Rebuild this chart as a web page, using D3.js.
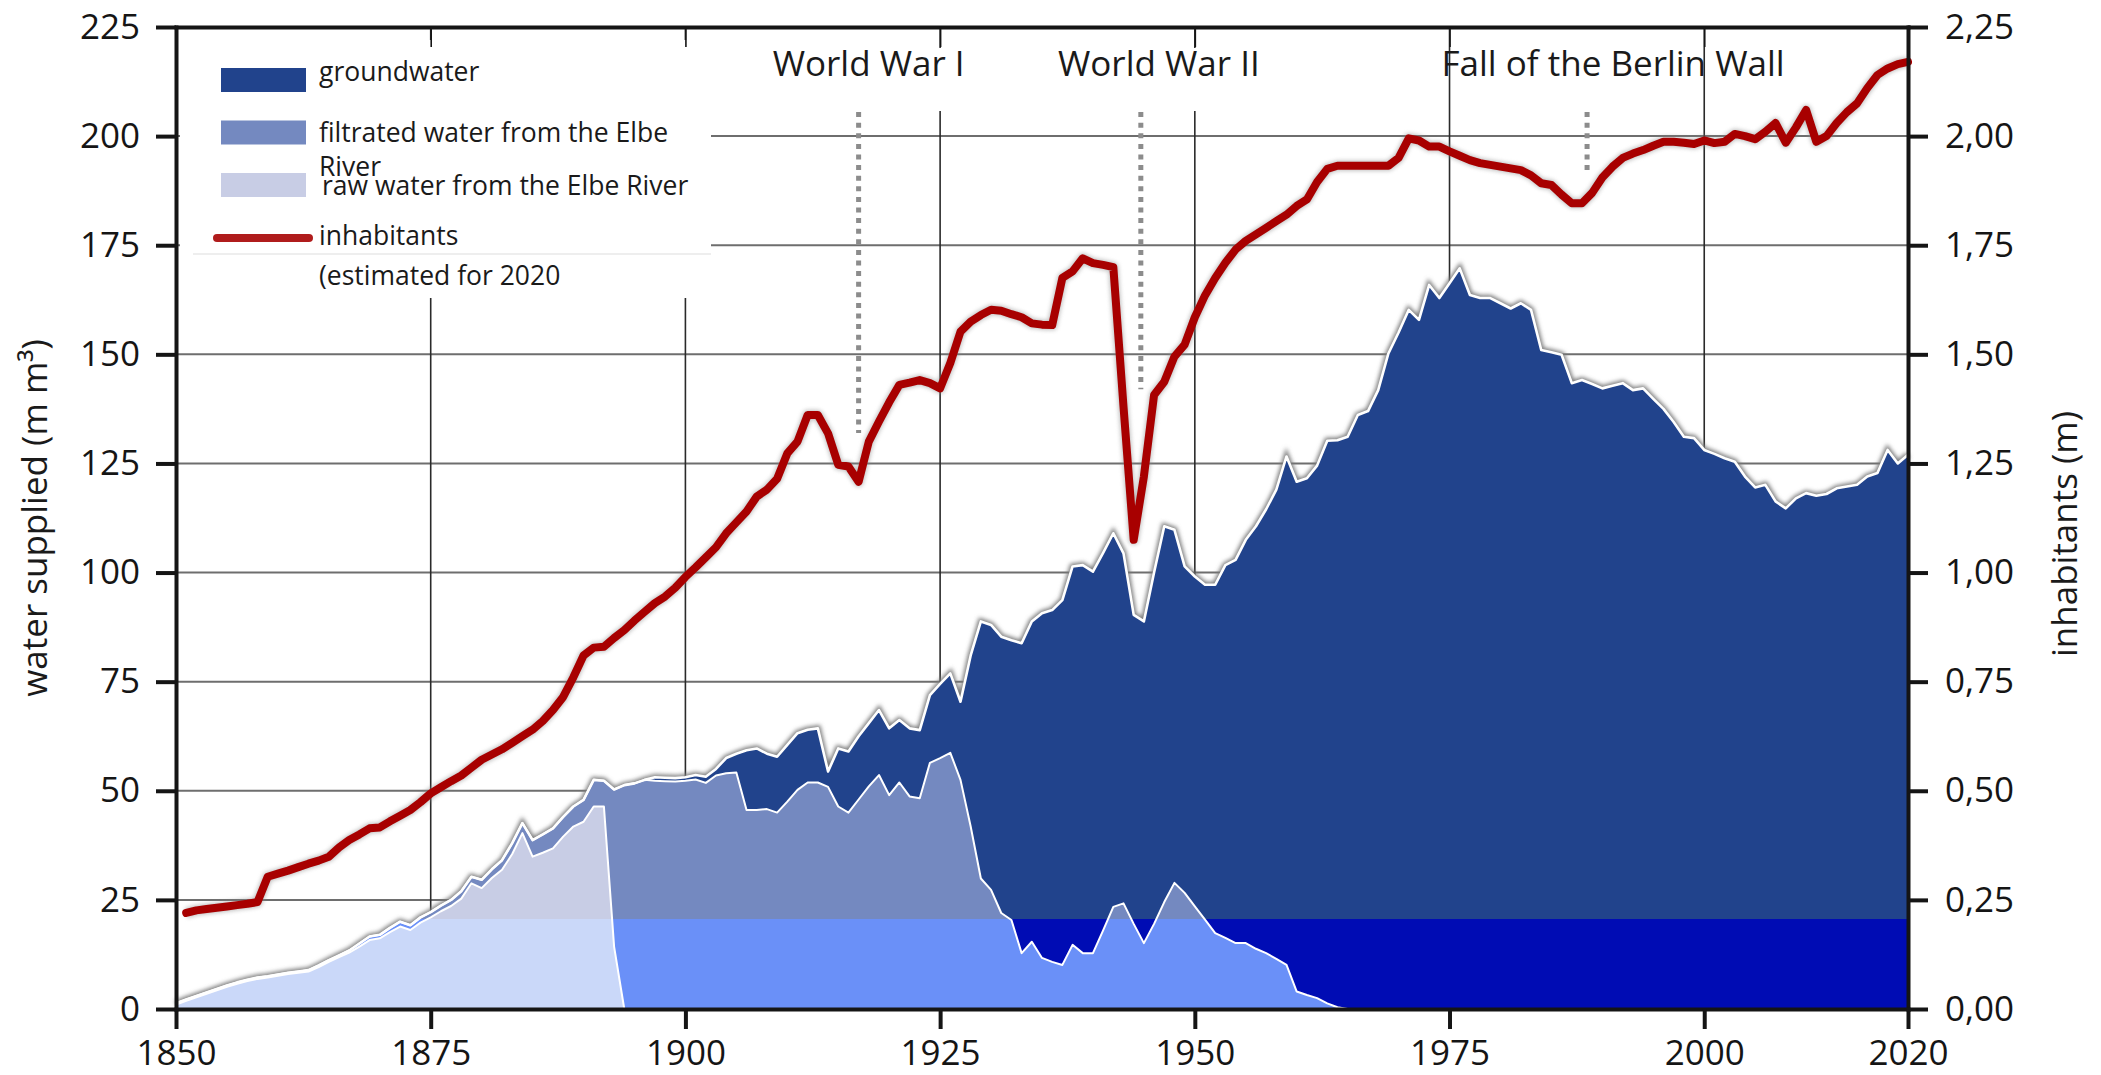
<!DOCTYPE html>
<html>
  <head>
    <meta charset="utf-8">
    <title>Water supplied and inhabitants, 1850-2020</title>
    <script src="https://d3js.org/d3.v7.min.js"></script>
    <style>
      body { margin: 0; background: #fff; }
      svg text { font-family: "Open Sans", "Noto Sans", sans-serif; }
    </style>
  </head>
  <body>
    <div id="chart"></div>

    <script>
        // water supplied (million m³ per year)
        const years = d3.range(1850, 2021)

        // raw water from the Elbe, 1850-1894 (none afterwards)
        const rawWater = [
            1.0, 1.9, 2.7, 3.5, 4.3, 5.1, 5.8, 6.4, 6.9, 7.2,
            7.6, 8.0, 8.3, 8.6, 9.6, 10.8, 11.9, 12.9, 14.3, 15.8,
            16.2, 17.6, 18.9, 18.1, 19.8, 21.0, 22.4, 23.6, 25.3, 28.8,
            27.7, 30.0, 31.9, 35.5, 40.3, 34.9, 35.8, 36.8, 39.5, 41.8,
            42.9, 46.4, 46.4, 14.3, 0
        ]

        // filtrated water from the Elbe, 1850-1965
        const filtratedWater = [
            0.3, 0.3, 0.3, 0.3, 0.3, 0.3, 0.3, 0.3, 0.3, 0.3,
            0.3, 0.3, 0.3, 0.3, 0.4, 0.4, 0.4, 0.5, 0.7, 0.8,
            0.8, 1.0, 1.1, 1.1, 1.2, 1.2, 1.3, 1.4, 1.7, 1.5,
            1.9, 2.0, 2.2, 2.5, 2.3, 3.8, 4.2, 4.6, 4.5, 4.6,
            5.0, 6.1, 5.9, 36.0, 51.3, 51.7, 52.5, 52.3, 52.2, 52.1,
            52.3, 52.6, 51.8, 53.5, 54.0, 54.2, 45.6, 45.6, 45.8, 45.0,
            47.5, 50.2, 51.9, 51.9, 50.9, 46.4, 45.0, 48.0, 51.0, 53.6,
            49.0, 51.9, 48.7, 48.3, 56.4, 57.5, 58.7, 52.5, 41.8, 29.9,
            27.3, 22.0, 20.4, 12.8, 15.4, 11.7, 10.8, 10.1, 14.7, 12.8,
            12.8, 18.0, 23.4, 24.2, 19.5, 15.1, 19.5, 24.5, 28.9, 26.6,
            23.5, 20.5, 17.4, 16.3, 15.1, 15.1, 13.8, 12.8, 11.5, 10.1,
            4.0, 3.2, 2.5, 1.3, 0.4, 0
        ]

        // groundwater, 1897-2020
        const groundwaterStart = 1897
        const groundwater = [
            0.8, 0.8, 0.8,
            0.8, 1.0, 1.4, 1.5, 3.5, 4.3, 13.7, 14.1, 12.7, 12.8,
            13.0, 13.0, 12.1, 12.4, 3.5, 13.3, 14.0, 14.5, 14.5, 14.9,
            15.3, 14.3, 15.6, 15.6, 15.5, 17.0, 18.2, 17.9, 39.2, 58.9,
            60.7, 63.3, 64.1, 71.0, 73.4, 79.0, 80.6, 83.6, 86.7, 88.9,
            87.4, 86.5, 85.6, 80.2, 70.8, 73.7, 80.5, 86.1, 80.9, 74.8,
            75.6, 76.7, 79.8, 85.4, 87.8, 92.4, 96.8, 101.7, 107.5, 116.5,
            116.8, 118.4, 122.0, 128.9, 129.9, 131.1, 136.1, 137.0, 141.8, 150.2,
            155.0, 160.2, 157.9, 165.9, 162.9, 166.3, 169.7, 163.6, 162.9, 162.9,
            161.7, 160.5, 161.7, 160.2, 151.0, 150.5, 149.9, 143.4, 144.1, 143.2,
            142.2, 142.8, 143.4, 141.8, 142.2, 139.8, 137.5, 134.5, 131.1, 130.8,
            128.1, 127.2, 126.2, 125.4, 122.0, 119.5, 120.1, 116.3, 114.7, 117.0,
            118.2, 117.6, 118.0, 119.3, 119.7, 120.1, 122.0, 122.8, 128.1, 125.0,
            127.0
        ]

        // inhabitants (millions), 1851-2020
        const inhabitantsStart = 1851
        const inhabitants = [
            0.220, 0.226, 0.229, 0.232, 0.235, 0.238, 0.241, 0.245, 0.303,
            0.310, 0.317, 0.325, 0.333, 0.340, 0.349, 0.370, 0.387, 0.400, 0.414,
            0.416, 0.430, 0.443, 0.456, 0.474, 0.494, 0.508, 0.522, 0.535, 0.553,
            0.571, 0.583, 0.595, 0.610, 0.625, 0.640, 0.660, 0.685, 0.715, 0.760,
            0.810, 0.828, 0.830, 0.850, 0.868, 0.890, 0.910, 0.930, 0.945, 0.965,
            0.990, 1.012, 1.035, 1.058, 1.090, 1.115, 1.140, 1.174, 1.190, 1.215,
            1.273, 1.300, 1.361, 1.361, 1.319, 1.247, 1.243, 1.208, 1.300, 1.346,
            1.390, 1.430, 1.435, 1.441, 1.434, 1.422, 1.480, 1.552, 1.575, 1.590,
            1.602, 1.600, 1.592, 1.585, 1.571, 1.568, 1.567, 1.675, 1.690, 1.720,
            1.709, 1.705, 1.700, 1.380, 1.075, 1.220, 1.407, 1.437, 1.495, 1.522,
            1.585, 1.635, 1.675, 1.710, 1.740, 1.760, 1.775, 1.790, 1.805, 1.820,
            1.840, 1.855, 1.895, 1.925, 1.932, 1.932, 1.932, 1.932, 1.932, 1.932,
            1.950, 1.995, 1.990, 1.976, 1.976, 1.965, 1.955, 1.945, 1.938, 1.934,
            1.930, 1.926, 1.922, 1.910, 1.892, 1.888, 1.866, 1.846, 1.846, 1.870,
            1.905, 1.930, 1.950, 1.960, 1.968, 1.978, 1.987, 1.987, 1.985, 1.982,
            1.990, 1.984, 1.987, 2.005, 2.000, 1.993, 2.010, 2.030, 1.985, 2.020,
            2.060, 1.987, 2.000, 2.030, 2.055, 2.075, 2.110, 2.140, 2.155, 2.165,
            2.170
        ]

        const waterTicks      = d3.range(0, 226, 25)
        const inhabitantTicks = [0, 0.25, 0.5, 0.75, 1, 1.25, 1.5, 1.75, 2, 2.25]
        const yearTicks       = [1850, 1875, 1900, 1925, 1950, 1975, 2000, 2020]
        const gridYears       = [1875, 1900, 1925, 1950, 1975, 2000]

        const eventLabels = ['World War I', 'World War II', 'Fall of the Berlin Wall']
        const eventYears  = [1917, 1944.7, 1988.5]

        const legendLabels = ['groundwater', 'filtrated water from the Elbe', 'raw water from the Elbe River', 'inhabitants']

        drawChart()

        function drawChart() {
            let W = 2101, H = 1075,
                m = { left: 176, right: 1908, top: 27, bottom: 1009 },
                x       = d3.scaleLinear().domain([1850, 2020]).range([m.left, m.right]),
                yWater  = d3.scaleLinear().domain([0, 225]).range([m.bottom, m.top]),
                yPeople = d3.scaleLinear().domain([0, 2.25]).range([m.bottom, m.top]),
                keys    = ['raw', 'filtrated', 'groundwater'],
                colors  = { raw: '#c8cde5', filtrated: '#7489c0', groundwater: '#21438c' },
                // the lowest band of the original is printed in stronger tints
                lowColors = { raw: '#cad8f9', filtrated: '#6a90f8', groundwater: '#000cb4' },
                bandTop = 20.6,
                decimal = d3.formatLocale({ decimal: ',', thousands: '.', grouping: [3], currency: ['', ''] }).format('.2f')

            let rows = years.map((yr, i) => ({
                year: yr,
                raw: rawWater[i] ?? 0,
                filtrated: filtratedWater[i] ?? 0,
                groundwater: groundwater[yr - groundwaterStart] ?? 0
            }))
            let series = d3.stack().keys(keys)(rows)
            let people = inhabitants.map((v, i) => ({ year: inhabitantsStart + i, value: v }))

            let svg = d3.select('#chart').append('svg')
                .attr('width', W).attr('height', H)
                .style('background', '#fff')

            let defs = svg.append('defs')
            defs.append('clipPath').attr('id', 'lowBand')
                .append('rect')
                .attr('x', m.left).attr('width', m.right - m.left)
                .attr('y', yWater(bandTop)).attr('height', m.bottom - yWater(bandTop))
            defs.append('filter').attr('id', 'blur')
                .attr('x', '-5%').attr('y', '-5%').attr('width', '110%').attr('height', '110%')
                .append('feGaussianBlur').attr('stdDeviation', 2.2)

            // grid
            let grid = svg.append('g')
            grid.selectAll('.hgrid')
                .data(waterTicks.filter(d => d > 0 && d < 225))
                .join('line')
                .attr('x1', m.left).attr('x2', m.right)
                .attr('y1', d => yWater(d)).attr('y2', d => yWater(d))
                .attr('stroke', '#6e6e6e').attr('stroke-width', 2)
            grid.selectAll('.vgrid')
                .data(gridYears)
                .join('line')
                .attr('x1', d => x(d)).attr('x2', d => x(d))
                .attr('y1', m.top).attr('y2', m.bottom)
                .attr('stroke', '#2a2a2a').attr('stroke-width', 1.6)

            // white patches of the original: behind the legend and the war labels
            svg.append('rect').attr('x', 180).attr('y', 40).attr('width', 531).attr('height', 258).attr('fill', '#fff')
            svg.append('rect').attr('x', 760).attr('y', 48).attr('width', 520).attr('height', 63).attr('fill', '#fff')

            // stacked areas
            let area = d3.area()
                .x(d => x(d.data.year))
                .y0(d => yWater(d[0]))
                .y1(d => yWater(d[1]))
            let topLine = d3.line()
                .x(d => x(d.data.year))
                .y(d => yWater(d[1]))

            svg.append('path')
                .datum(series[2])
                .attr('d', topLine)
                .attr('fill', 'none')
                .attr('stroke', '#7a7a7a').attr('stroke-width', 6)
                .attr('filter', 'url(#blur)')

            svg.append('g').selectAll('path')
                .data(series)
                .join('path')
                .attr('d', area)
                .attr('fill', d => colors[d.key])

            svg.append('g').attr('clip-path', 'url(#lowBand)')
                .selectAll('path')
                .data(series)
                .join('path')
                .attr('d', area)
                .attr('fill', d => lowColors[d.key])

            svg.append('g').selectAll('path')
                .data(series)
                .join('path')
                .attr('d', topLine)
                .attr('fill', 'none')
                .attr('stroke', '#fff')
                .attr('stroke-width', d => d.key == 'groundwater' ? 2.6 : 2)
                .attr('stroke-linejoin', 'round')

            // event markers
            let dotBottoms = [132, 142, 192],
                labelShift = [10, 18, 26]
            svg.append('g').selectAll('line')
                .data(eventYears)
                .join('line')
                .attr('x1', d => x(d)).attr('x2', d => x(d))
                .attr('y1', yWater(205.5)).attr('y2', (d, i) => yWater(dotBottoms[i]))
                .attr('stroke', '#8c8c8c').attr('stroke-width', 5)
                .attr('stroke-dasharray', '5 5.6')
            svg.append('g').selectAll('text')
                .data(eventLabels)
                .join('text')
                .attr('x', (d, i) => x(eventYears[i]) + labelShift[i])
                .attr('y', 76)
                .attr('text-anchor', 'middle')
                .attr('font-size', 35)
                .attr('fill', '#1a1a1a')
                .text(d => d)

            // inhabitants
            let peopleLine = d3.line()
                .x(d => x(d.year))
                .y(d => yPeople(d.value))
            svg.append('path')
                .datum(people)
                .attr('d', peopleLine)
                .attr('fill', 'none')
                .attr('stroke', '#8a8a8a').attr('stroke-width', 10)
                .attr('stroke-linejoin', 'round')
                .attr('opacity', 0.55)
                .attr('filter', 'url(#blur)')
            svg.append('path')
                .datum(people)
                .attr('d', peopleLine)
                .attr('fill', 'none')
                .attr('stroke', '#a80000').attr('stroke-width', 8)
                .attr('stroke-linejoin', 'round')
                .attr('stroke-linecap', 'round')

            // legend
            let lg = svg.append('g')
            let swatch = [colors.groundwater, colors.filtrated, colors.raw]
            lg.selectAll('rect')
                .data(swatch)
                .join('rect')
                .attr('x', 221).attr('width', 85)
                .attr('y', (d, i) => 68 + i * 52.5).attr('height', 24)
                .attr('fill', d => d)
            lg.append('line')
                .attr('x1', 217).attr('x2', 309).attr('y1', 238).attr('y2', 238)
                .attr('stroke', '#b01c1c').attr('stroke-width', 8).attr('stroke-linecap', 'round')
            lg.append('line')
                .attr('x1', 193).attr('x2', 711).attr('y1', 254).attr('y2', 254)
                .attr('stroke', '#eeeeee').attr('stroke-width', 2)
            let lgBase = [81, 142, 195, 245]
            lg.selectAll('text')
                .data(legendLabels)
                .join('text')
                .attr('x', (d, i) => i == 2 ? 322 : 319)
                .attr('y', (d, i) => lgBase[i])
                .attr('font-size', 26.5)
                .attr('fill', '#1a1a1a')
                .text(d => d)
            lg.append('text').attr('x', 319).attr('y', 176).attr('font-size', 26.5).attr('fill', '#1a1a1a').text('River')
            lg.append('text').attr('x', 319).attr('y', 285).attr('font-size', 26.5).attr('fill', '#1a1a1a').text('(estimated for 2020')

            // axes
            function styleAxis(g, tickWidth) {
                g.attr('font-family', '"Open Sans", "Noto Sans", sans-serif')
                    .attr('font-size', 35)
                    .attr('color', '#151515')
                g.select('.domain').attr('stroke-width', 4).attr('stroke-linecap', 'square')
                g.selectAll('.tick line').attr('stroke-width', tickWidth)
            }

            svg.append('g')
                .attr('transform', `translate(0,${m.top})`)
                .call(d3.axisTop(x).tickValues(gridYears).tickSize(-20).tickSizeOuter(0).tickFormat(''))
                .call(g => styleAxis(g, 1.6))

            svg.append('g')
                .attr('transform', `translate(${m.left},0)`)
                .call(d3.axisLeft(yWater).tickValues(waterTicks).tickSize(20).tickSizeOuter(0).tickPadding(16))
                .call(g => styleAxis(g, 4))

            svg.append('g')
                .attr('transform', `translate(${m.right},0)`)
                .call(d3.axisRight(yPeople).tickValues(inhabitantTicks).tickSize(20).tickSizeOuter(0).tickPadding(17).tickFormat(decimal))
                .call(g => styleAxis(g, 4))

            svg.append('g')
                .attr('transform', `translate(0,${m.bottom})`)
                .call(d3.axisBottom(x).tickValues(yearTicks).tickSize(20).tickSizeOuter(0).tickPadding(11).tickFormat(d3.format('d')))
                .call(g => styleAxis(g, 4))

            // axis titles
            svg.append('text')
                .attr('transform', `translate(47,518) rotate(-90)`)
                .attr('text-anchor', 'middle')
                .attr('font-size', 35)
                .attr('fill', '#1a1a1a')
                .text('water supplied (m m³)')
            svg.append('text')
                .attr('transform', `translate(2077,534) rotate(-90)`)
                .attr('text-anchor', 'middle')
                .attr('font-size', 35)
                .attr('fill', '#1a1a1a')
                .text('inhabitants (m)')
        }
    </script>
  </body>
</html>
